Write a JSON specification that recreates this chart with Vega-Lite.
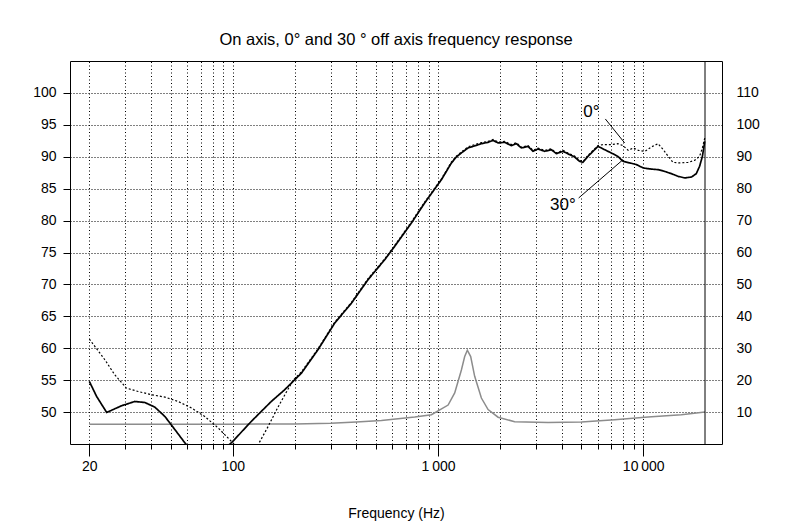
{
  "$schema": "https://vega.github.io/schema/vega-lite/v6.json",
  "width": 652,
  "height": 383,
  "autosize": {"type": "none"},
  "padding": {"left": 70, "top": 61, "right": 73, "bottom": 81},
  "background": "white",
  "config": {
    "view": {"stroke": "black", "strokeWidth": 1},
    "font": "Liberation Sans",
    "axis": {"labelFont": "Liberation Sans", "titleFont": "Liberation Sans", "labelColor": "black", "titleColor": "black", "tickColor": "black"}
  },
  "title": {"text": "On axis, 0° and 30 ° off axis frequency response", "font": "Liberation Sans", "fontSize": 16.5, "fontWeight": "normal", "color": "black", "offset": 12},
  "datasets": {
    "imp": [
      {"f": 20, "z": 6.2}, {"f": 50, "z": 6.2}, {"f": 100, "z": 6.2}, {"f": 200, "z": 6.3}, {"f": 300, "z": 6.5},
      {"f": 400, "z": 6.9}, {"f": 530, "z": 7.36}, {"f": 770, "z": 8.44}, {"f": 929, "z": 9.16}, {"f": 1120, "z": 12.2},
      {"f": 1206, "z": 16.0}, {"f": 1300, "z": 23.2}, {"f": 1349, "z": 27.4}, {"f": 1390, "z": 29.4}, {"f": 1443, "z": 27.4},
      {"f": 1509, "z": 21.2}, {"f": 1627, "z": 14.4}, {"f": 1754, "z": 10.8}, {"f": 1962, "z": 8.4}, {"f": 2363, "z": 7.0},
      {"f": 3439, "z": 6.74}, {"f": 5000, "z": 6.86}, {"f": 7256, "z": 7.6}, {"f": 10553, "z": 8.44}, {"f": 15330, "z": 9.16},
      {"f": 20000, "z": 10.0}
    ],
    "resp": [
      {"curve": "30°", "f": 20, "db": 54.8}, {"curve": "30°", "f": 21.7, "db": 52.45}, {"curve": "30°", "f": 24.3, "db": 49.94},
      {"curve": "30°", "f": 28.7, "db": 50.99}, {"curve": "30°", "f": 33.3, "db": 51.66}, {"curve": "30°", "f": 37.3, "db": 51.5},
      {"curve": "30°", "f": 41.7, "db": 50.78}, {"curve": "30°", "f": 46.7, "db": 49.31}, {"curve": "30°", "f": 52.3, "db": 47.23},
      {"curve": "30°", "f": 59, "db": 45.0}, {"curve": "30°", "f": 75, "db": 42.0}, {"curve": "30°", "f": 98.6, "db": 45.2},
      {"curve": "30°", "f": 123, "db": 48.53}, {"curve": "30°", "f": 154, "db": 51.66}, {"curve": "30°", "f": 179, "db": 53.5},
      {"curve": "30°", "f": 216, "db": 56.1}, {"curve": "30°", "f": 260, "db": 59.76}, {"curve": "30°", "f": 314, "db": 63.95},
      {"curve": "30°", "f": 379, "db": 67.08}, {"curve": "30°", "f": 456, "db": 70.74}, {"curve": "30°", "f": 550, "db": 73.87},
      {"curve": "30°", "f": 615, "db": 75.96}, {"curve": "30°", "f": 742, "db": 79.62}, {"curve": "30°", "f": 861, "db": 82.76},
      {"curve": "30°", "f": 1039, "db": 86.41}, {"curve": "30°", "f": 1099, "db": 87.71}, {"curve": "30°", "f": 1161, "db": 89.0},
      {"curve": "30°", "f": 1229, "db": 89.97}, {"curve": "30°", "f": 1300, "db": 90.6}, {"curve": "30°", "f": 1401, "db": 91.38},
      {"curve": "30°", "f": 1509, "db": 91.7}, {"curve": "30°", "f": 1627, "db": 92.05}, {"curve": "30°", "f": 1754, "db": 92.26},
      {"curve": "30°", "f": 1855, "db": 92.57}, {"curve": "30°", "f": 1962, "db": 92.16}, {"curve": "30°", "f": 2113, "db": 92.26},
      {"curve": "30°", "f": 2277, "db": 91.74}, {"curve": "30°", "f": 2409, "db": 92.05}, {"curve": "30°", "f": 2547, "db": 91.38},
      {"curve": "30°", "f": 2745, "db": 91.63}, {"curve": "30°", "f": 2904, "db": 90.85}, {"curve": "30°", "f": 3072, "db": 91.22},
      {"curve": "30°", "f": 3309, "db": 90.85}, {"curve": "30°", "f": 3566, "db": 91.11}, {"curve": "30°", "f": 3772, "db": 90.49},
      {"curve": "30°", "f": 4066, "db": 90.85}, {"curve": "30°", "f": 4381, "db": 90.33}, {"curve": "30°", "f": 4630, "db": 89.97},
      {"curve": "30°", "f": 4893, "db": 89.28}, {"curve": "30°", "f": 5080, "db": 89.12}, {"curve": "30°", "f": 5378, "db": 90.06},
      {"curve": "30°", "f": 5690, "db": 90.85}, {"curve": "30°", "f": 6025, "db": 91.63}, {"curve": "30°", "f": 6482, "db": 91.11},
      {"curve": "30°", "f": 6985, "db": 90.6}, {"curve": "30°", "f": 7523, "db": 90.06}, {"curve": "30°", "f": 7975, "db": 89.28},
      {"curve": "30°", "f": 8601, "db": 89.03}, {"curve": "30°", "f": 9277, "db": 88.76}, {"curve": "30°", "f": 10000, "db": 88.24},
      {"curve": "30°", "f": 10780, "db": 88.09}, {"curve": "30°", "f": 11800, "db": 87.98}, {"curve": "30°", "f": 12710, "db": 87.71},
      {"curve": "30°", "f": 13720, "db": 87.35}, {"curve": "30°", "f": 14790, "db": 86.93}, {"curve": "30°", "f": 15950, "db": 86.68},
      {"curve": "30°", "f": 17190, "db": 86.83}, {"curve": "30°", "f": 18130, "db": 87.35}, {"curve": "30°", "f": 18820, "db": 88.5},
      {"curve": "30°", "f": 19420, "db": 90.06}, {"curve": "30°", "f": 19950, "db": 92.42},

      {"curve": "0°", "f": 20, "db": 61.44}, {"curve": "0°", "f": 23.8, "db": 58.2}, {"curve": "0°", "f": 26.6, "db": 55.85},
      {"curve": "0°", "f": 30.3, "db": 53.76}, {"curve": "0°", "f": 34.6, "db": 53.23}, {"curve": "0°", "f": 40.2, "db": 52.71},
      {"curve": "0°", "f": 46.7, "db": 52.35}, {"curve": "0°", "f": 54.2, "db": 51.66}, {"curve": "0°", "f": 63, "db": 50.63},
      {"curve": "0°", "f": 73, "db": 49.31}, {"curve": "0°", "f": 85, "db": 47.49}, {"curve": "0°", "f": 100.4, "db": 45.14},
      {"curve": "0°", "f": 115, "db": 42.5}, {"curve": "0°", "f": 133, "db": 44.9}, {"curve": "0°", "f": 148.6, "db": 47.74},
      {"curve": "0°", "f": 165, "db": 50.6}, {"curve": "0°", "f": 180, "db": 52.8}, {"curve": "0°", "f": 197, "db": 55.0},
      {"curve": "0°", "f": 216, "db": 56.3}, {"curve": "0°", "f": 260, "db": 59.9}, {"curve": "0°", "f": 314, "db": 64.1},
      {"curve": "0°", "f": 379, "db": 67.2}, {"curve": "0°", "f": 456, "db": 70.9}, {"curve": "0°", "f": 550, "db": 74.0},
      {"curve": "0°", "f": 615, "db": 76.1}, {"curve": "0°", "f": 742, "db": 79.8}, {"curve": "0°", "f": 861, "db": 82.9},
      {"curve": "0°", "f": 1039, "db": 86.55}, {"curve": "0°", "f": 1099, "db": 87.85}, {"curve": "0°", "f": 1161, "db": 89.15},
      {"curve": "0°", "f": 1229, "db": 90.1}, {"curve": "0°", "f": 1300, "db": 90.75}, {"curve": "0°", "f": 1401, "db": 91.55},
      {"curve": "0°", "f": 1509, "db": 91.9}, {"curve": "0°", "f": 1627, "db": 92.2}, {"curve": "0°", "f": 1754, "db": 92.4},
      {"curve": "0°", "f": 1855, "db": 92.7}, {"curve": "0°", "f": 1962, "db": 92.3}, {"curve": "0°", "f": 2113, "db": 92.4},
      {"curve": "0°", "f": 2277, "db": 91.9}, {"curve": "0°", "f": 2409, "db": 92.2}, {"curve": "0°", "f": 2547, "db": 91.5},
      {"curve": "0°", "f": 2745, "db": 91.75}, {"curve": "0°", "f": 2904, "db": 91.0}, {"curve": "0°", "f": 3072, "db": 91.35},
      {"curve": "0°", "f": 3309, "db": 91.0}, {"curve": "0°", "f": 3566, "db": 91.25}, {"curve": "0°", "f": 3772, "db": 90.6},
      {"curve": "0°", "f": 4066, "db": 91.0}, {"curve": "0°", "f": 4381, "db": 90.45}, {"curve": "0°", "f": 4630, "db": 90.1},
      {"curve": "0°", "f": 4893, "db": 89.4}, {"curve": "0°", "f": 5080, "db": 89.25}, {"curve": "0°", "f": 5378, "db": 90.2},
      {"curve": "0°", "f": 5690, "db": 91.0}, {"curve": "0°", "f": 6025, "db": 91.75}, {"curve": "0°", "f": 6370, "db": 91.9},
      {"curve": "0°", "f": 6985, "db": 91.9}, {"curve": "0°", "f": 7523, "db": 92.05}, {"curve": "0°", "f": 7975, "db": 91.74},
      {"curve": "0°", "f": 8450, "db": 91.0}, {"curve": "0°", "f": 8950, "db": 91.38}, {"curve": "0°", "f": 9480, "db": 91.0},
      {"curve": "0°", "f": 10200, "db": 90.85}, {"curve": "0°", "f": 10950, "db": 91.53}, {"curve": "0°", "f": 11800, "db": 92.05},
      {"curve": "0°", "f": 12520, "db": 91.11}, {"curve": "0°", "f": 13240, "db": 90.06}, {"curve": "0°", "f": 13970, "db": 89.12},
      {"curve": "0°", "f": 15040, "db": 89.03}, {"curve": "0°", "f": 16530, "db": 89.12}, {"curve": "0°", "f": 17780, "db": 89.43},
      {"curve": "0°", "f": 18820, "db": 90.06}, {"curve": "0°", "f": 19420, "db": 91.38}, {"curve": "0°", "f": 19950, "db": 92.95}
    ],
    "notes": [
      {"label": "0°", "f": 5585, "db": 96.99},
      {"label": "30°", "f": 4058, "db": 82.41}
    ],
    "leaders": [
      {"f": 6537, "db": 95.92, "f2": 8121, "db2": 92.16},
      {"f": 4845, "db": 83.54, "f2": 7975, "db2": 89.55}
    ],
    "limit": [{"f": 20000}]
  },
  "layer": [
    {
      "data": {"name": "imp"},
      "mark": {"type": "line", "color": "#8c8c8c", "strokeWidth": 1.5, "clip": true},
      "encoding": {
        "x": {"field": "f", "type": "quantitative", "scale": {"type": "log", "domain": [16.1, 24200], "nice": false}, "axis": null},
        "y": {"field": "z", "type": "quantitative", "scale": {"domain": [0, 120], "nice": false, "zero": false},
          "axis": {"orient": "right", "values": [10, 20, 30, 40, 50, 60, 70, 80, 90, 100, 110], "ticks": false, "tickSize": 0, "domain": false, "grid": false, "labelPadding": 14, "labelFontSize": 14, "title": null}}
      }
    },
    {
      "layer": [
        {
          "data": {"name": "resp"},
          "mark": {"type": "line", "clip": true, "color": "black"},
          "encoding": {
            "x": {"field": "f", "type": "quantitative", "scale": {"type": "log", "domain": [16.1, 24200], "nice": false},
              "axis": {
                "orient": "bottom",
                "values": [20, 100, 1000, 10000],
                "labelExpr": "datum.value == 1000 ? '1\u2009000' : datum.value == 10000 ? '10\u2009000' : datum.value == 100 ? '100' : '20'",
                "tickSize": 12,
                "labelPadding": 3, "labelFontSize": 14, "labelFlush": false, "labelOverlap": false,
                "domain": false, "grid": false,
                "title": "Frequency (Hz)", "titleFontSize": 14, "titleFontWeight": "normal", "titlePadding": 33
              }
            },
            "y": {"field": "db", "type": "quantitative", "scale": {"domain": [45, 105], "nice": false, "zero": false},
              "axis": {"orient": "left", "values": [50, 55, 60, 65, 70, 75, 80, 85, 90, 95, 100], "tickSize": 7, "labelPadding": 7, "labelFontSize": 14, "domain": false, "grid": true, "gridColor": "black", "gridDash": [1, 2], "gridWidth": 1, "title": null}
            },
            "detail": {"field": "curve"},
            "strokeDash": {"field": "curve", "type": "nominal", "scale": {"domain": ["0°", "30°"], "range": [[2, 2], [1, 0]]}, "legend": null},
            "strokeWidth": {"field": "curve", "type": "nominal", "scale": {"domain": ["0°", "30°"], "range": [1.2, 1.7]}, "legend": null}
          }
        },
        {
          "data": {"name": "limit"},
          "mark": {"type": "rule", "color": "black", "strokeWidth": 1},
          "encoding": {
            "x": {"field": "f", "type": "quantitative",
              "axis": {
                "orient": "bottom",
                "values": [20, 30, 40, 50, 60, 70, 80, 90, 100, 200, 300, 400, 500, 600, 700, 800, 900, 1000, 2000, 3000, 4000, 5000, 6000, 7000, 8000, 9000, 10000],
                "labels": false, "tickSize": 5, "domain": false, "title": null,
                "grid": true, "gridColor": "black", "gridDash": [1, 2.5], "gridWidth": 1
              }
            }
          }
        },
        {
          "data": {"name": "leaders"},
          "mark": {"type": "rule", "color": "black", "strokeWidth": 1},
          "encoding": {
            "x": {"field": "f", "type": "quantitative", "axis": null},
            "x2": {"field": "f2"},
            "y": {"field": "db", "type": "quantitative",
              "axis": {"orient": "left", "values": [50, 55, 60, 65, 70, 75, 80, 85, 90, 95, 100], "tickSize": 7, "labelPadding": 7, "labelFontSize": 14, "domain": false, "grid": true, "gridColor": "black", "gridDash": [1, 2], "gridWidth": 1, "title": null}},
            "y2": {"field": "db2"}
          }
        },
        {
          "data": {"name": "notes"},
          "mark": {"type": "text", "fontSize": 17, "font": "Liberation Sans", "color": "black", "align": "center", "baseline": "middle"},
          "encoding": {
            "x": {"field": "f", "type": "quantitative", "axis": null},
            "y": {"field": "db", "type": "quantitative",
              "axis": {"orient": "left", "values": [50, 55, 60, 65, 70, 75, 80, 85, 90, 95, 100], "tickSize": 7, "labelPadding": 7, "labelFontSize": 14, "domain": false, "grid": true, "gridColor": "black", "gridDash": [1, 2], "gridWidth": 1, "title": null}},
            "text": {"field": "label"}
          }
        }
      ],
      "resolve": {"axis": {"x": "independent"}}
    }
  ],
  "resolve": {"scale": {"y": "independent"}, "axis": {"y": "independent"}}
}
